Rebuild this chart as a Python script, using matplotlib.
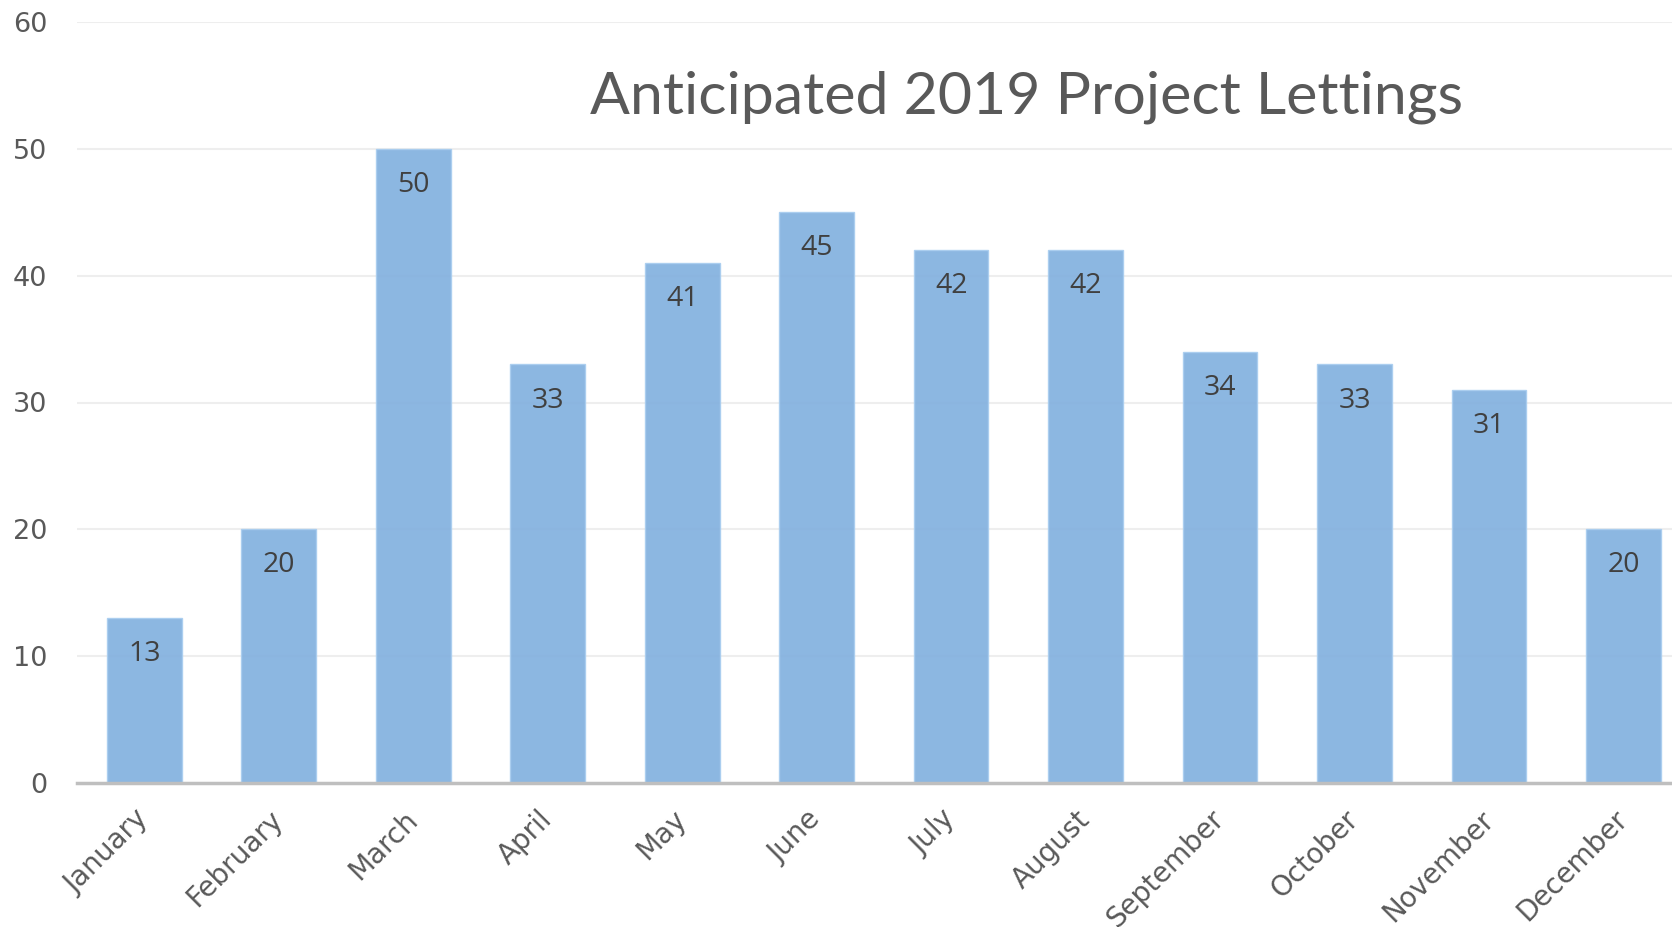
import matplotlib.pyplot as plt
import numpy as np

# Data
months = ['January', 'February', 'March', 'April', 'May', 'June', 'July',
          'August', 'September', 'October', 'November', 'December']
lettings = [13, 20, 50, 33, 41, 45, 42, 42, 34, 33, 31, 20]
y_ticks = [0, 10, 20, 30, 40, 50, 60]

fig = plt.figure(figsize=(16.72, 9.27), dpi=100)
ax = fig.add_axes([77 / 1672, 1 - 783 / 927, 1 - 77 / 1672, (783 - 22) / 927])

x = np.arange(len(months))
bars = ax.bar(x, lettings, width=0.555, color='#80AFDE', alpha=0.9,
              edgecolor='#A9CDEF', linewidth=1, zorder=3)

# value labels just inside the bar tops
for xi, v in zip(x, lettings):
    ax.text(xi, v - 2.85, str(v), ha='center', va='center', fontsize=20.5,
            family='Open Sans', color='#404040', zorder=4)

ax.set_xlim(-0.5, 11.36)
ax.set_ylim(0, 60)
ax.set_yticks(y_ticks)
ax.set_xticks(x)
ax.set_xticklabels(months, rotation=45, ha='right', va='center',
                   rotation_mode='anchor')
ax.tick_params(axis='x', length=0, pad=23, labelsize=20, labelcolor='#595959')
ax.tick_params(axis='y', length=0, pad=21.5, labelsize=19.5, labelcolor='#595959')

ax.grid(axis='y', color='#EEEEEE', linewidth=1.5, zorder=0)
ax.set_axisbelow(True)
for side in ['top', 'right', 'left']:
    ax.spines[side].set_visible(False)
ax.spines['bottom'].set_color('#BFBFBF')
ax.spines['bottom'].set_linewidth(2.5)
ax.spines['bottom'].set_zorder(5)

fig.text(1026 / 1672, 1 - 97 / 927, 'Anticipated 2019 Project Lettings',
         ha='center', va='center', fontsize=42.5, family='Lato', color='#595959')

fig.savefig('out.png', dpi=100)
